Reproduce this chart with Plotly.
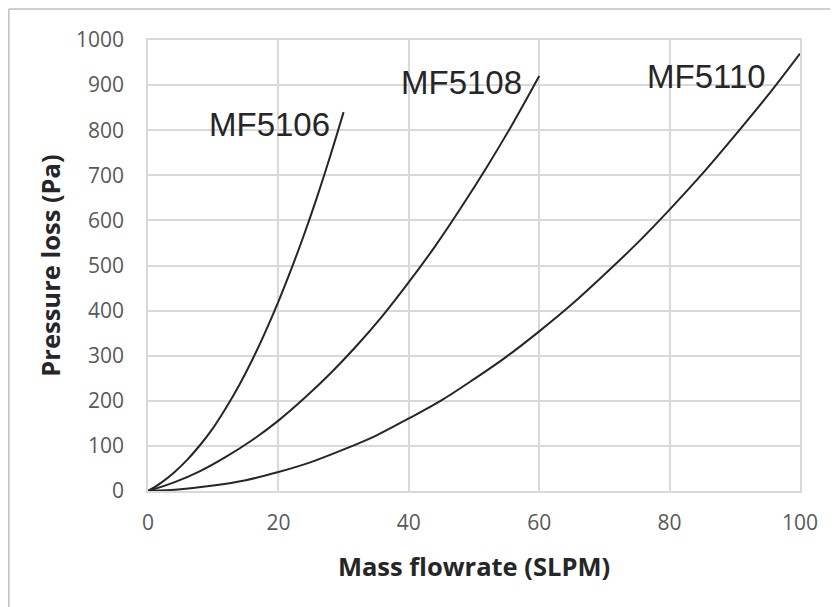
import plotly.graph_objects as go

# Data
mf5106_x = [0, 2, 4, 6, 8, 10, 12, 14, 16, 18, 20, 22, 24, 26, 28, 30]
mf5106_y = [0, 18, 41, 69, 102, 140, 185, 235, 291, 353, 420, 493, 571, 655, 745, 840]

mf5108_x = [0, 4, 8, 12, 16, 20, 24, 28, 32, 36, 40, 44, 48, 52, 56, 60]
mf5108_y = [0, 19, 44, 76, 113, 156, 206, 261, 322, 389, 463, 542, 628, 719, 816, 920]

mf5110_x = [0, 5, 10, 15, 20, 25, 30, 35, 40, 45, 50, 55, 60, 65, 70, 75, 80, 85, 90, 95, 100]
mf5110_y = [0, 4, 12, 24, 42, 64, 92, 123, 161, 201, 248, 298, 354, 414, 480, 549, 624, 703, 788, 876, 970]

labels = ["MF5106", "MF5108", "MF5110"]
label_x = [18.6, 48.1, 85.6]
label_y = [813, 905, 918]

x_ticks = [0, 20, 40, 60, 80, 100]
y_ticks = [0, 100, 200, 300, 400, 500, 600, 700, 800, 900, 1000]

fig = go.Figure()
for xs, ys in [(mf5106_x, mf5106_y), (mf5108_x, mf5108_y), (mf5110_x, mf5110_y)]:
    fig.add_trace(go.Scatter(x=xs, y=ys, mode="lines", line=dict(color="#262626", width=2, shape="spline"),
                             showlegend=False, hoverinfo="skip"))

for t, xx, yy in zip(labels, label_x, label_y):
    fig.add_annotation(x=xx, y=yy, text=t, showarrow=False, xanchor="center", yanchor="middle",
                       font=dict(family="Liberation Sans, Arial", size=33, color="#262626"))

grid = "#d9d9d9"
fig.update_layout(
    width=838, height=607,
    margin=dict(l=140, r=46, t=32, b=124),
    paper_bgcolor="white", plot_bgcolor="white",
    font=dict(family="Open Sans", color="#595959"),
    xaxis=dict(range=[0, 100], tickvals=x_ticks, showgrid=True, gridcolor=grid, gridwidth=1.5,
               showline=True, linecolor=grid, linewidth=1.5, mirror=True, zeroline=False,
               tickfont=dict(size=21, color="#595959"), ticklabelstandoff=12,
               title=dict(text="<b>Mass flowrate (SLPM)</b>", font=dict(size=25.5, color="#262626"), standoff=23)),
    yaxis=dict(range=[0, 1000], tickvals=y_ticks, showgrid=True, gridcolor=grid, gridwidth=1.5,
               showline=True, linecolor=grid, linewidth=1.5, mirror=True, zeroline=False,
               tickfont=dict(size=21, color="#595959"), ticklabelstandoff=18,
               title=dict(text="<b>Pressure loss (Pa)</b>", font=dict(size=25.5, color="#262626"), standoff=8)),
)

# outer chart frame (top and left edges visible)
fig.add_shape(type="line", xref="paper", yref="paper", x0=-0.2134, x1=1.08, y0=1.0687, y1=1.0687,
              line=dict(color="#bfbfbf", width=1.5))
fig.add_shape(type="line", xref="paper", yref="paper", x0=-0.2134, x1=-0.2134, y0=1.0687, y1=-0.28,
              line=dict(color="#bfbfbf", width=1.5))

fig.write_html("out.html")
